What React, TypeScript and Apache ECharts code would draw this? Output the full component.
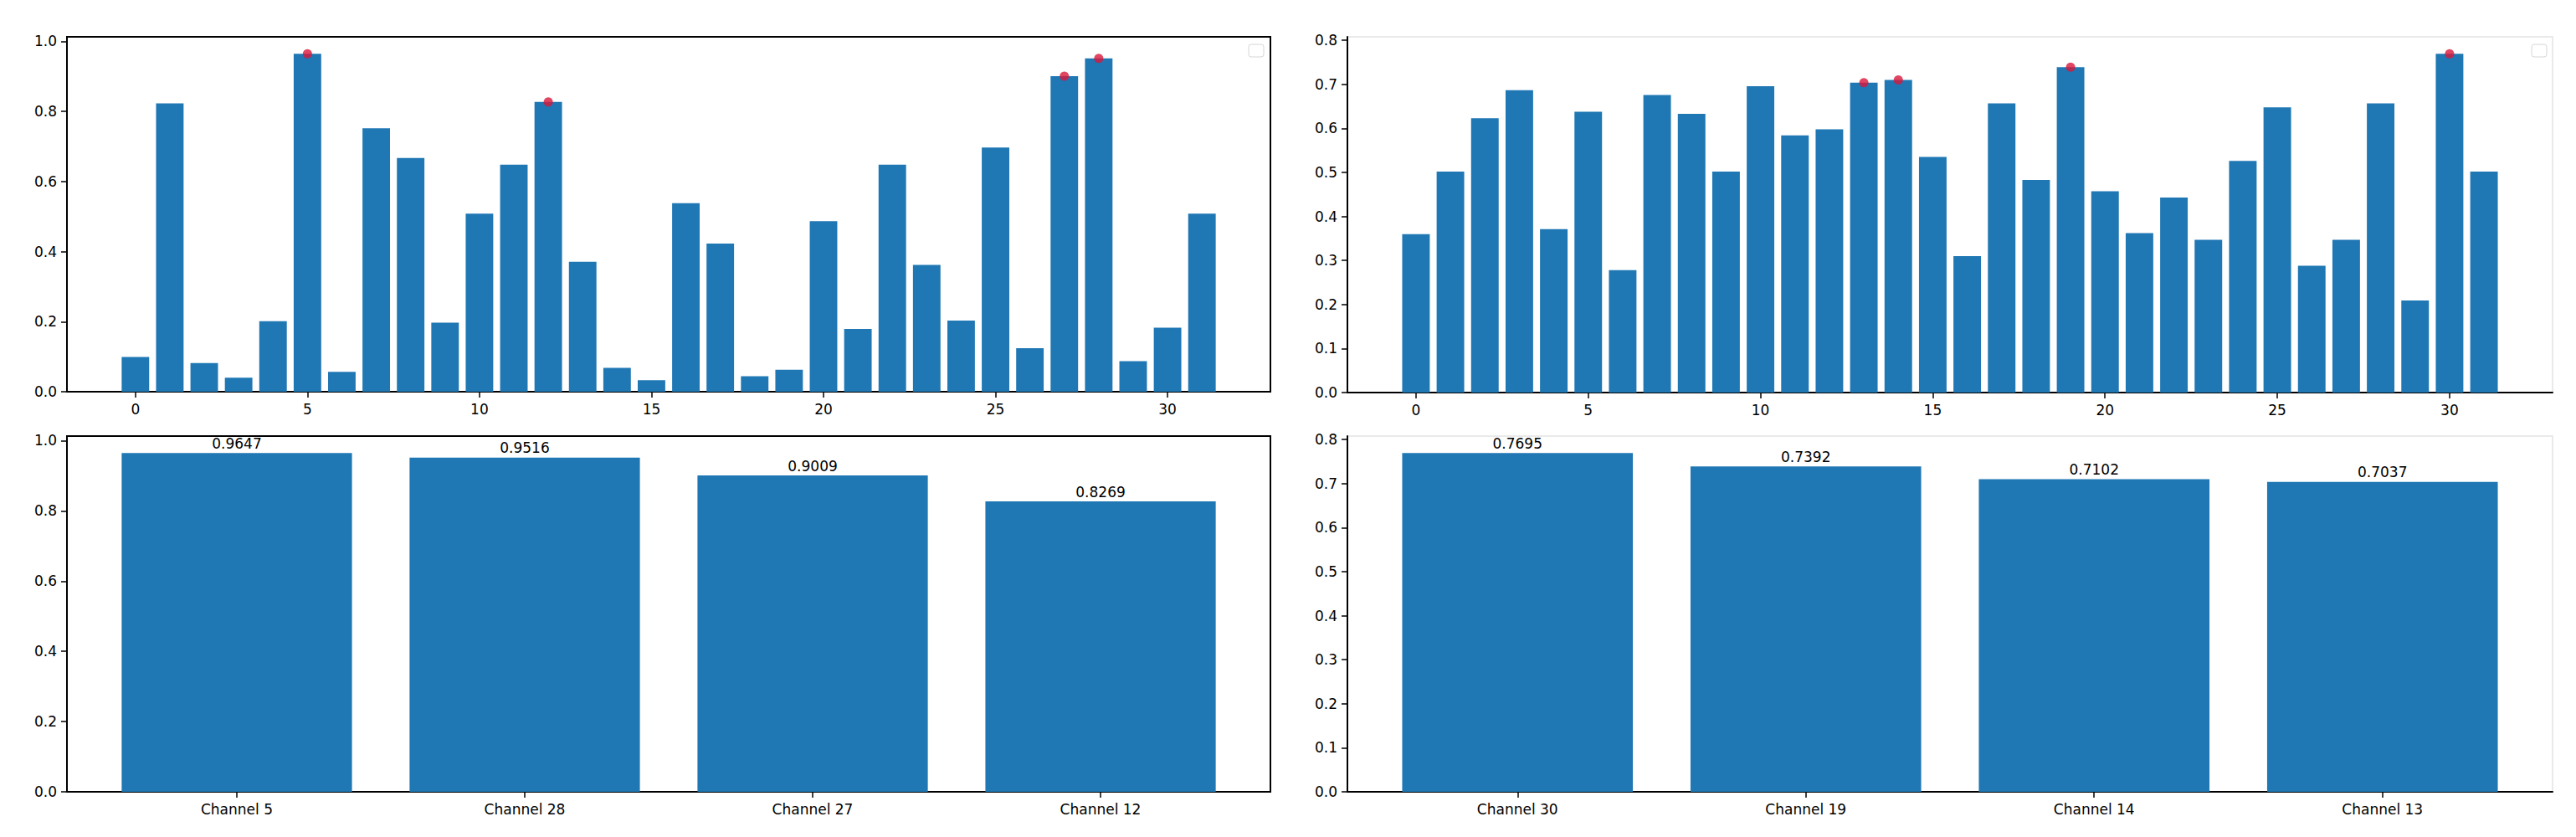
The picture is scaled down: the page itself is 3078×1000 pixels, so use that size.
import React, { useEffect, useRef } from "react";
import * as echarts from "echarts";

// ---- data ----
const leftValues = [
  0.099, 0.823, 0.082, 0.040, 0.201, 0.9647, 0.057, 0.752, 0.667, 0.197, 0.508,
  0.648, 0.8269, 0.371, 0.068, 0.033, 0.538, 0.423, 0.044, 0.063, 0.487, 0.179,
  0.648, 0.362, 0.203, 0.697, 0.124, 0.9009, 0.9516, 0.087, 0.183, 0.508,
];
const rightValues = [
  0.360, 0.502, 0.623, 0.687, 0.371, 0.638, 0.278, 0.676, 0.633, 0.502, 0.696,
  0.584, 0.598, 0.7037, 0.7102, 0.535, 0.310, 0.657, 0.483, 0.7392, 0.457, 0.362,
  0.443, 0.347, 0.526, 0.648, 0.288, 0.347, 0.657, 0.209, 0.7695, 0.502,
];
const channelTicks = [0, 5, 10, 15, 20, 25, 30];
const leftYTicks = [0, 0.2, 0.4, 0.6, 0.8, 1.0];
const rightYTicks = [0, 0.1, 0.2, 0.3, 0.4, 0.5, 0.6, 0.7, 0.8];
const TOP_N = 4;

const FONT = "'DejaVu Sans', 'Liberation Sans', sans-serif";
const BLUE = "#1f77b4";
const RED = "#d9163a";

function topIndices(vals: number[], n: number) {
  return vals
    .map((v, i) => ({ v, i }))
    .sort((a, b) => b.v - a.v)
    .slice(0, n);
}

function mplLimits(n: number) {
  const lo = -0.4;
  const hi = n - 1 + 0.4;
  const span = hi - lo;
  return { min: lo - 0.05 * span, max: hi + 0.05 * span };
}

export default function App() {
  const ref = useRef<HTMLDivElement>(null);
  useEffect(() => {
    if (!ref.current) return;
    const chart = echarts.init(ref.current, undefined, { renderer: "svg" });

    const grids = [
      { left: 80, top: 44, width: 1438, height: 424 },
      { left: 1610, top: 44, width: 1440, height: 425 },
      { left: 80, top: 521, width: 1438, height: 425 },
      { left: 1610, top: 521, width: 1440, height: 425 },
    ];
    const borderColors = ["#000", "#e4e4e4", "#000", "#e4e4e4"];

    const topL = topIndices(leftValues, TOP_N);
    const topR = topIndices(rightValues, TOP_N);
    const valueSets = [leftValues, rightValues];
    const tops = [topL, topR];

    const textStyle = { color: "#000", fontSize: 17, fontFamily: FONT };

    const xAxes: any[] = [];
    const yAxes: any[] = [];
    const series: any[] = [];

    for (let g = 0; g < 4; g++) {
      const isTop = g < 2;
      const side = g % 2;
      const vals = valueSets[side];
      const top = tops[side];
      const n = isTop ? vals.length : top.length;
      const lim = mplLimits(n);
      const unitPx = grids[g].width / (lim.max - lim.min);
      const ymax = Math.max(...vals) * 1.05;
      const yTicks = side === 0 ? leftYTicks : rightYTicks;
      const xTicks = isTop ? channelTicks : top.map((_, k) => k);

      xAxes.push({
        type: "value",
        gridIndex: g,
        min: lim.min,
        max: lim.max,
        splitLine: { show: false },
        axisLine: { show: true, onZero: false, lineStyle: { color: "#000", width: 2 } },
        axisTick: {
          show: true,
          customValues: xTicks,
          length: 7,
          lineStyle: { color: "#000", width: 1.5 },
        },
        axisLabel: {
          customValues: xTicks,
          margin: 12,
          ...textStyle,
          formatter: isTop
            ? (v: number) => String(Math.round(v))
            : (v: number) => "Channel " + top[Math.round(v)].i,
        },
      });
      yAxes.push({
        type: "value",
        gridIndex: g,
        min: 0,
        max: ymax,
        splitLine: { show: false },
        axisLine: { show: true, onZero: false, lineStyle: { color: "#000", width: 2 } },
        axisTick: {
          show: true,
          customValues: yTicks,
          length: 7,
          lineStyle: { color: "#000", width: 1.5 },
        },
        axisLabel: {
          customValues: yTicks,
          margin: 12,
          ...textStyle,
          formatter: (v: number) => v.toFixed(1),
        },
      });

      if (isTop) {
        series.push({
          type: "bar",
          xAxisIndex: g,
          yAxisIndex: g,
          barWidth: 0.8 * unitPx,
          itemStyle: { color: BLUE },
          data: vals.map((v, i) => [i, v]),
        });
        series.push({
          type: "scatter",
          xAxisIndex: g,
          yAxisIndex: g,
          symbol: "circle",
          symbolSize: 11,
          itemStyle: { color: RED },
          z: 5,
          data: top.map((t) => [t.i, t.v]),
        });
      } else {
        series.push({
          type: "bar",
          xAxisIndex: g,
          yAxisIndex: g,
          barWidth: 0.8 * unitPx,
          itemStyle: { color: BLUE },
          label: {
            show: true,
            position: "top",
            distance: 3,
            ...textStyle,
            formatter: (p: any) => p.value[1].toFixed(4),
          },
          data: top.map((t, k) => [k, t.v]),
        });
      }
    }

    chart.setOption({
      animation: false,
      backgroundColor: "#fff",
      grid: grids.map((gr, i) => ({
        ...gr,
        show: true,
        borderColor: borderColors[i],
        borderWidth: i % 2 === 0 ? 2 : 1.5,
        backgroundColor: "transparent",
      })),
      xAxis: xAxes,
      yAxis: yAxes,
      series,
      graphic: [
        {
          type: "rect",
          shape: { x: 1492, y: 53, width: 18, height: 15, r: 3 },
          style: { fill: "#fff", stroke: "#d6d6d6", lineWidth: 1 },
          z: 10,
        },
        {
          type: "rect",
          shape: { x: 3025, y: 53, width: 18, height: 15, r: 3 },
          style: { fill: "#fff", stroke: "#d6d6d6", lineWidth: 1 },
          z: 10,
        },
      ],
    });

    return () => chart.dispose();
  }, []);

  return (
    <div
      ref={ref}
      style={{ position: "fixed", left: 0, top: 0, width: 3078, height: 1000, background: "#fff" }}
    />
  );
}
